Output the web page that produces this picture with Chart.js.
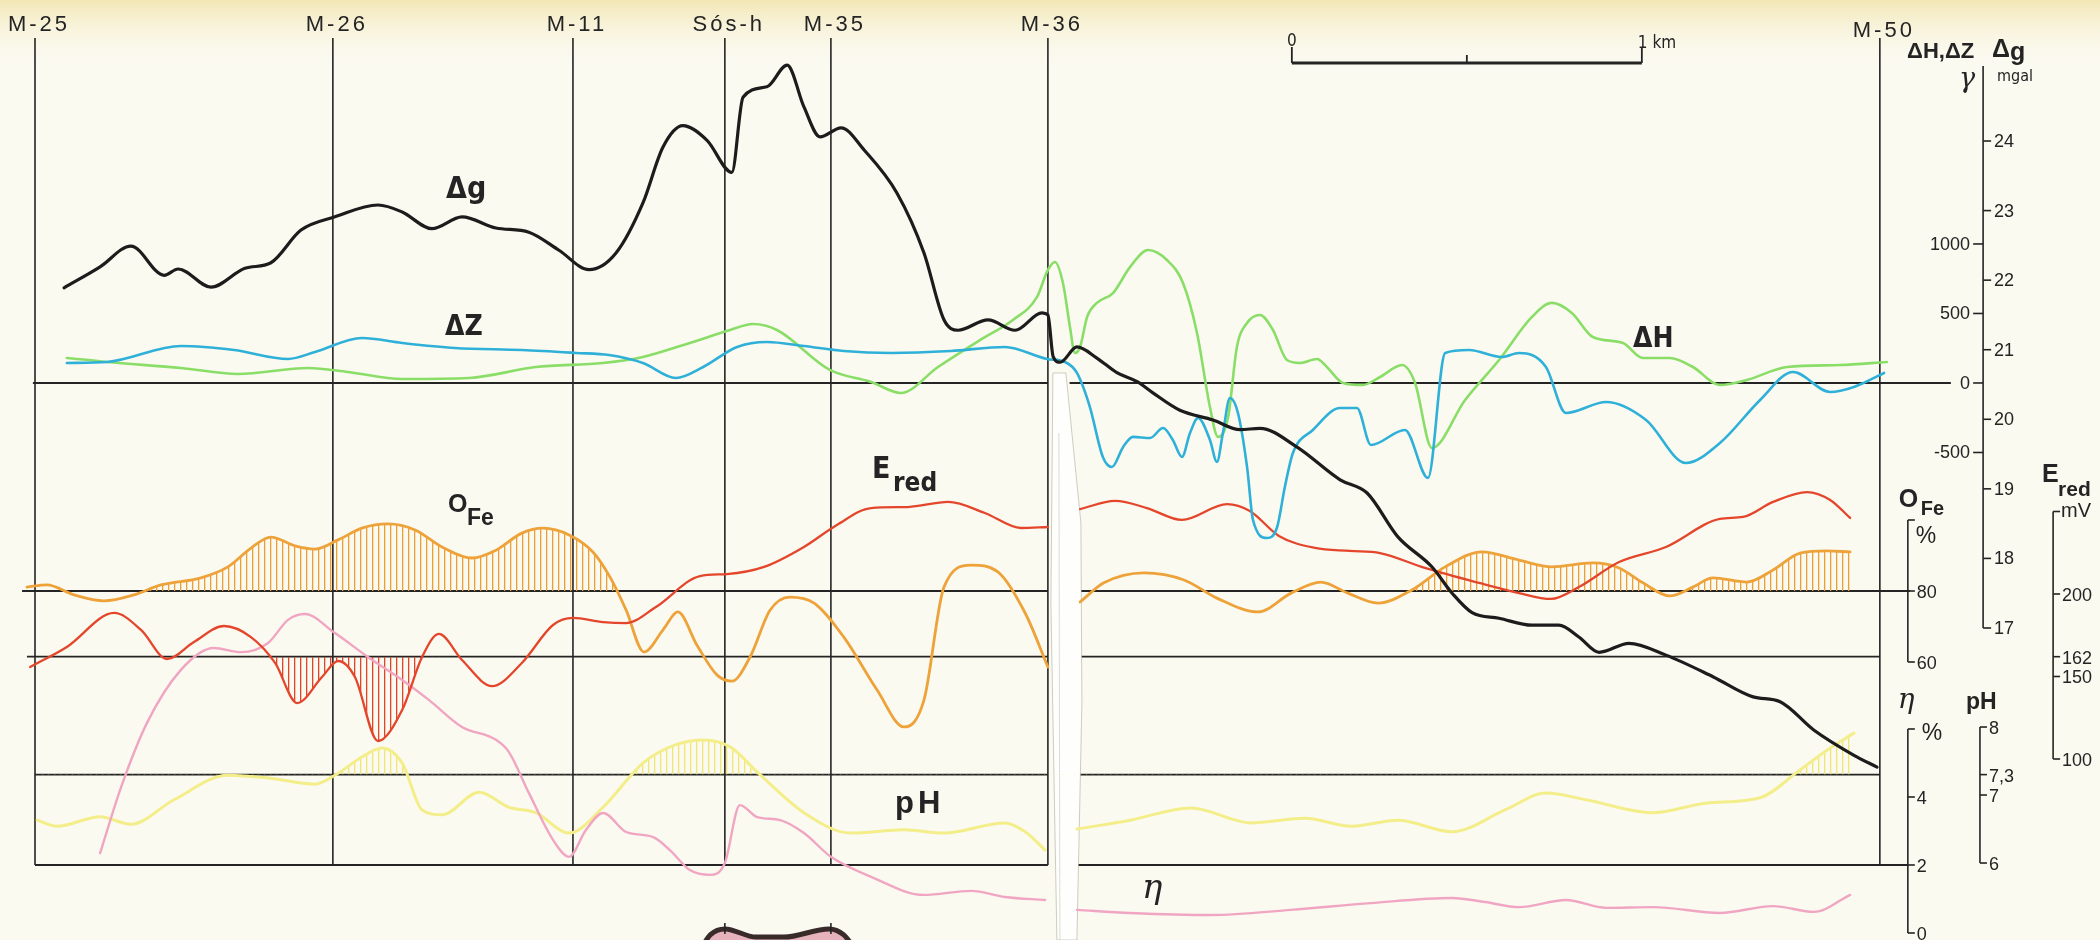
<!DOCTYPE html>
<html>
<head>
<meta charset="utf-8">
<title>Profile M-25 – M-50</title>
<script src="https://cdn.jsdelivr.net/npm/chart.js@4.4.1/dist/chart.umd.min.js"></script>
<style>
  html, body { margin: 0; padding: 0; background: #fbfaf1; }
  #wrap { width: 2100px; height: 940px; }
</style>
</head>
<body>
<div id="wrap"><canvas id="profile" width="2100" height="940"></canvas></div>
<script>
// stations along the profile (km from M-25)
const stations = ['M-25', 'M-26', 'M-11', 'Sós-h', 'M-35', 'M-36', 'M-50'];
const stationKm = [0, 0.851, 1.537, 1.971, 2.274, 2.894, 5.271];

// Δg, mgal
const gravKm = [0.083,0.186,0.274,0.369,0.409,0.503,0.600,0.674,0.760,0.857,0.980,1.049,1.134,1.220,1.317,1.411,1.497,1.583,1.660,1.737,1.794,1.851,1.920,1.991,2.023,2.091,2.149,2.197,2.243,2.303,2.369,2.463,2.540,2.597,2.637,2.723,2.800,2.877,2.894,2.909,2.929,2.977,3.034,3.091,3.149,3.194,3.271,3.366,3.443,3.500,3.606,3.729,3.806,3.894,3.991,4.049,4.106,4.183,4.277,4.354,4.411,4.469,4.554,4.660,4.794,4.909,4.986,5.083,5.197,5.263];
const gravMgal = [21.89,22.19,22.49,22.07,22.16,21.90,22.17,22.25,22.72,22.91,23.08,22.98,22.74,22.91,22.75,22.69,22.43,22.15,22.39,23.11,23.91,24.22,24.01,23.55,24.63,24.78,25.09,24.49,24.06,24.19,23.87,23.25,22.39,21.43,21.28,21.43,21.28,21.53,21.50,20.90,20.82,21.04,20.88,20.67,20.54,20.38,20.13,19.99,19.85,19.87,19.60,19.13,18.94,18.31,17.88,17.50,17.22,17.14,17.04,17.04,16.87,16.65,16.78,16.61,16.30,16.01,15.94,15.53,15.17,15.00];

// ΔZ, gamma
const dzKm = [0.091,0.206,0.417,0.569,0.723,0.800,0.934,1.049,1.200,1.391,1.546,1.640,1.737,1.831,1.909,2.006,2.091,2.197,2.311,2.446,2.617,2.771,2.891,2.943,2.977,3.014,3.051,3.077,3.109,3.137,3.186,3.223,3.251,3.277,3.300,3.323,3.357,3.377,3.394,3.414,3.437,3.463,3.480,3.520,3.549,3.571,3.594,3.651,3.729,3.777,3.817,3.914,3.980,4.029,4.097,4.191,4.240,4.317,4.374,4.489,4.603,4.717,4.814,4.929,5.023,5.129,5.197,5.283];
const dzGamma = [144,151,266,237,173,223,324,288,252,237,216,201,144,36,115,259,295,266,230,216,230,259,173,151,72,-173,-532,-604,-460,-388,-396,-324,-410,-532,-360,-252,-410,-568,-360,-108,-216,-604,-986,-1115,-1036,-748,-504,-338,-180,-180,-446,-338,-683,216,237,187,216,115,-216,-137,-266,-576,-432,-122,79,-65,-29,72];

// ΔH, gamma
const dhKm = [0.091,0.206,0.417,0.580,0.780,0.894,1.049,1.240,1.431,1.623,1.737,1.871,1.986,2.051,2.120,2.271,2.389,2.474,2.580,2.700,2.794,2.863,2.894,2.914,2.937,2.957,2.971,2.986,3.006,3.034,3.080,3.129,3.180,3.234,3.280,3.320,3.357,3.380,3.409,3.434,3.463,3.500,3.537,3.577,3.614,3.663,3.691,3.737,3.794,3.843,3.906,3.943,3.991,4.086,4.183,4.277,4.334,4.391,4.451,4.537,4.594,4.671,4.737,4.814,4.891,5.006,5.157,5.291];
const dhGamma = [180,151,108,65,108,79,29,36,115,144,187,288,381,424,381,94,7,-72,115,309,453,619,813,870,719,403,216,259,475,576,647,835,957,885,719,360,-173,-388,-245,259,432,489,381,165,144,173,115,0,-14,43,129,0,-468,-122,165,475,576,504,331,288,180,180,115,-14,22,115,129,151];

// E red, mV (null = fold of the sheet)
const redKm = [-0.014,0.091,0.226,0.303,0.377,0.454,0.540,0.617,0.686,0.749,0.820,0.866,0.914,0.980,1.049,1.106,1.154,1.220,1.306,1.391,1.480,1.537,1.623,1.689,1.774,1.900,1.977,2.083,2.197,2.291,2.389,2.494,2.609,2.714,2.817,2.894,2.94,2.986,3.086,3.177,3.277,3.406,3.471,3.554,3.657,3.757,3.843,3.971,4.126,4.240,4.331,4.411,4.526,4.660,4.814,4.880,4.966,5.063,5.129,5.186];
const redMv = [155.8,167.9,188.5,178.2,160.6,170.9,180.6,173.9,158.2,133.9,149.7,159.4,149.7,110.9,129.7,161.8,175.8,160.0,144.2,158.2,181.2,185.5,183.0,182.4,192.1,210.9,212.1,216.4,228.5,241.8,252.1,252.7,255.8,249.1,240.0,240.6,null,251.5,256.4,252.1,244.9,254.5,250.3,235.2,227.9,226.1,224.8,215.8,206.7,200.6,197.0,204.2,219.4,228.5,245.5,246.7,255.8,261.8,257.0,246.1];

// O Fe, %
const feKm = [-0.023,0.034,0.111,0.197,0.283,0.360,0.474,0.551,0.617,0.674,0.743,0.800,0.866,0.934,1.009,1.086,1.163,1.249,1.317,1.391,1.451,1.526,1.594,1.643,1.689,1.740,1.794,1.837,1.891,1.949,1.991,2.043,2.100,2.157,2.226,2.311,2.406,2.483,2.540,2.597,2.674,2.751,2.829,2.894,2.94,2.986,3.054,3.169,3.283,3.377,3.494,3.589,3.674,3.751,3.837,3.934,4.029,4.134,4.240,4.334,4.451,4.526,4.594,4.671,4.737,4.794,4.891,4.966,5.043,5.120,5.186];
const fePct = [81.1,81.7,78.9,77.2,78.9,81.7,83.7,86.8,92.1,95.2,92.7,91.8,94.4,97.7,98.9,97.2,92.4,89.3,91.5,96.3,97.7,95.8,91.0,83.9,74.6,62.8,69.0,74.1,64.8,56.3,54.6,61.4,74.6,78.3,76.6,67.0,52.1,41.7,49.3,81.1,87.3,85.4,73.8,58.6,null,76.9,82.3,85.1,83.1,78.0,74.1,79.4,82.5,79.4,76.6,80.3,86.8,91.0,88.7,86.8,87.9,86.5,82.3,78.6,81.1,83.7,82.5,85.9,90.7,91.3,91.0];

// pH
const phKm = [0.006,0.063,0.186,0.274,0.397,0.551,0.666,0.800,0.857,0.934,0.991,1.049,1.106,1.163,1.269,1.354,1.431,1.526,1.623,1.737,1.831,1.909,1.986,2.063,2.197,2.331,2.483,2.597,2.771,2.829,2.886,2.93,2.977,3.129,3.303,3.474,3.629,3.760,3.894,4.049,4.200,4.317,4.431,4.623,4.774,4.929,5.043,5.120,5.197];
const phVal = [6.63,6.54,6.68,6.57,6.93,7.29,7.25,7.16,7.29,7.56,7.69,7.47,6.78,6.71,7.04,6.82,6.74,6.44,6.82,7.47,7.74,7.81,7.71,7.34,6.74,6.44,6.49,6.44,6.59,6.46,6.19,null,6.50,6.63,6.81,6.59,6.66,6.54,6.63,6.46,6.78,7.03,6.93,6.74,6.88,6.96,7.37,7.66,7.91];

// η, %
const etaKm = [0.186,0.246,0.320,0.417,0.511,0.589,0.666,0.723,0.771,0.857,0.951,1.049,1.126,1.220,1.317,1.354,1.411,1.480,1.526,1.574,1.623,1.689,1.766,1.814,1.871,1.929,1.971,2.014,2.063,2.129,2.197,2.274,2.389,2.540,2.674,2.771,2.886,2.93,2.977,3.129,3.360,3.589,3.817,4.049,4.143,4.240,4.374,4.489,4.623,4.814,4.966,5.083,5.186];
const etaPct = [2.35,4.29,6.18,7.74,8.38,8.26,8.53,9.21,9.38,8.82,8.12,7.44,6.85,6.06,5.68,5.32,4.12,2.74,2.24,3.03,3.53,2.97,2.82,2.44,1.85,1.71,2.06,3.76,3.41,3.32,2.94,2.24,1.65,1.12,1.24,1.06,0.97,null,0.68,0.59,0.53,0.68,0.88,1.03,0.91,0.76,0.97,0.74,0.76,0.59,0.79,0.62,1.12];

// section of the body below the profile, drawn against the η staff
const bodyKm = [1.90, 1.93, 1.971, 2.06, 2.14, 2.269, 2.31, 2.345];
const bodyTop = [-0.5, -0.05, 0.12, -0.12, -0.12, 0.12, -0.05, -0.5];

// hatched stretches (km)
const feHatch = [[0.28, 1.70], [3.83, 5.20]];
const redHatch = [[0.60, 1.16]];

// staff ticks
const gravTicks = [17, 18, 19, 20, 21, 22, 23, 24];
const magTicks = [-500, 0, 500, 1000];
const feTicks = [60, 80];
const etaTicks = [0, 2, 4];
const phTicks = [6, 7, 7.3, 8];
const redTicks = [100, 150, 162, 200];

const FOLD = [2.894, 2.986];
const SANS = "'Liberation Sans', Arial, sans-serif";
const NARROW = "'Liberation Sans Narrow', 'DejaVu Sans Condensed', 'Liberation Sans', sans-serif";
const INK = '#242424';

const canvas = document.getElementById('profile');
const ctx = canvas.getContext('2d');

function stripes(color, gap) {
  const c = document.createElement('canvas');
  c.width = gap; c.height = 8;
  const g = c.getContext('2d');
  g.fillStyle = color;
  g.fillRect(0, 0, 1.3, 8);
  return ctx.createPattern(c, 'repeat');
}
const orangeHatch = stripes('#ec9f35', 6);
const redHatchFill = stripes('#e2442a', 6);
const yellowHatch = stripes('#efe676', 6);

const pairs = (xs, ys) => xs.map((x, i) => ({ x, y: ys[i] }));
const within = (pts, r) => pts.filter(p => p.y !== null && p.x >= r[0] && p.x <= r[1]);

const curve = (label, data, yAxisID, color, width, order) => ({
  label, data, yAxisID, order,
  borderColor: color, borderWidth: width, backgroundColor: 'rgba(0,0,0,0)',
  pointRadius: 0, fill: false, spanGaps: false,
  cubicInterpolationMode: 'monotone', borderCapStyle: 'round', borderJoinStyle: 'round'
});
const hatch = (data, yAxisID, base, side, pattern) => ({
  data, yAxisID, order: 20,
  borderColor: 'rgba(0,0,0,0)', borderWidth: 0, backgroundColor: 'rgba(0,0,0,0)',
  pointRadius: 0, cubicInterpolationMode: 'monotone',
  fill: {
    target: { value: base },
    above: side === 'above' ? pattern : 'rgba(0,0,0,0)',
    below: side === 'below' ? pattern : 'rgba(0,0,0,0)'
  }
});

const grav = pairs(gravKm, gravMgal);
const dz = pairs(dzKm, dzGamma);
const dh = pairs(dhKm, dhGamma);
const red = pairs(redKm, redMv);
const fe = pairs(feKm, fePct);
const ph = pairs(phKm, phVal);
const eta = pairs(etaKm, etaPct);

const datasets = [
  curve('Δg', grav, 'gravity', '#1c1c1c', 3.2, 0),
  curve('ΔZ', dz, 'magnetic', '#2fb0d8', 2.6, 1),
  curve('ΔH', dh, 'magnetic', '#8ade68', 2.6, 2),
  curve('E red', red, 'redox', '#e4462c', 2.3, 3),
  curve('O Fe', fe, 'oxid', '#eea23a', 2.8, 4),
  curve('pH', ph, 'ph', '#f4ee8a', 3.0, 6),
  curve('η', eta, 'poro', '#f0a6c2', 2.4, 5),
  Object.assign(curve('body', pairs(bodyKm, bodyTop), 'poro', '#3a2b2b', 5, 7), {
    fill: 'start', backgroundColor: '#e6b2bb'
  }),
  hatch(ph.filter(p => p.y !== null), 'ph', 7.3, 'above', yellowHatch)
];
feHatch.forEach(r => datasets.push(hatch(within(fe, r), 'oxid', 80, 'above', orangeHatch)));
redHatch.forEach(r => datasets.push(hatch(within(red, r), 'redox', 162, 'below', redHatchFill)));

function seg(c, x1, y1, x2, y2) {
  c.beginPath(); c.moveTo(x1, y1); c.lineTo(x2, y2); c.stroke();
}
function label(c, s, x, y, font, align, spacing) {
  c.font = font; c.textAlign = align || 'left'; c.textBaseline = 'alphabetic';
  c.letterSpacing = spacing || '0px';
  c.fillStyle = INK; c.fillText(s, x, y);
  c.letterSpacing = '0px';
}

const paper = {
  id: 'paper',
  beforeDraw(chart) {
    const { ctx: c, width, height } = chart;
    c.save();
    c.fillStyle = '#fbfaf1';
    c.fillRect(0, 0, width, height);
    const g = c.createLinearGradient(0, 0, 0, 70);
    g.addColorStop(0, 'rgba(240,224,160,0.75)');
    g.addColorStop(1, 'rgba(251,250,241,0)');
    c.fillStyle = g;
    c.fillRect(0, 0, width, 70);
    c.restore();
  }
};

const frame = {
  id: 'frame',
  beforeDatasetsDraw(chart) {
    const { ctx: c, scales: s } = chart;
    const X = v => s.x.getPixelForValue(v);
    c.save();
    c.strokeStyle = INK;
    c.lineWidth = 1.6;
    const bottom = s.poro.getPixelForValue(2);
    stationKm.forEach(km => seg(c, X(km), 38, X(km), bottom));

    const baselines = [
      { axis: 'magnetic', value: 0, spans: [[-0.006, FOLD[0]], [FOLD[1] - 0.03, 5.474]] },
      { axis: 'oxid', value: 80, spans: [[-0.037, FOLD[0]], [FOLD[1], 5.357]] },
      { axis: 'redox', value: 162, spans: [[-0.023, FOLD[0]], [FOLD[1], 5.271]] },
      { axis: 'ph', value: 7.3, spans: [[0, FOLD[0]], [FOLD[1] - 0.02, 5.271]] },
      { axis: 'poro', value: 2, spans: [[0, FOLD[0]], [FOLD[1] - 0.03, 5.351]] }
    ];
    c.lineWidth = 1.8;
    baselines.forEach(b => {
      const y = s[b.axis].getPixelForValue(b.value);
      b.spans.forEach(([a, e]) => seg(c, X(a), y, X(e), y));
    });

    // the fold in the sheet below the magnetic zero line
    const l = X(FOLD[0]) + 2;
    const top = s.magnetic.getPixelForValue(0) - 10;
    c.fillStyle = '#fefefc';
    c.strokeStyle = 'rgba(150,145,125,0.45)';
    c.lineWidth = 1;
    c.beginPath();
    c.moveTo(l + 3, top);
    c.lineTo(l + 16, top);
    c.lineTo(l + 31, top + 150);
    c.lineTo(l + 32, top + 330);
    c.lineTo(l + 27, 940);
    c.lineTo(l + 7, 940);
    c.lineTo(l + 1, top + 230);
    c.closePath();
    c.fill();
    c.stroke();
    c.strokeStyle = 'rgba(160,155,135,0.35)';
    seg(c, l + 9, top + 60, l + 10, 940);
    c.restore();
  },
  afterDraw(chart) {
    const { ctx: c, scales: s } = chart;
    const X = v => s.x.getPixelForValue(v);
    const G = v => s.gravity.getPixelForValue(v);
    const M = v => s.magnetic.getPixelForValue(v);
    const F = v => s.oxid.getPixelForValue(v);
    const R = v => s.redox.getPixelForValue(v);
    const P = v => s.ph.getPixelForValue(v);
    const E = v => s.poro.getPixelForValue(v);
    c.save();
    c.strokeStyle = INK;
    c.lineWidth = 1.6;

    // station names
    stations.forEach((name, i) => {
      label(c, name, X(stationKm[i]) + 4, i === stations.length - 1 ? 37 : 31, `22px ${SANS}`, 'center', '3px');
    });

    // scale bar, 1 km
    const b0 = X(3.591), b1 = X(4.591), bm = X(4.091);
    c.lineWidth = 3.2;
    seg(c, b0, 63, b1, 63);
    c.lineWidth = 1.8;
    seg(c, b0, 47, b0, 63);
    seg(c, bm, 55, bm, 63);
    seg(c, b1, 47, b1, 63);
    label(c, '0', b0, 46, `17px ${NARROW}`, 'center');
    label(c, '1 km', b1 - 4, 48, `17px ${NARROW}`, 'left');

    // Δg / ΔH,ΔZ staff
    c.lineWidth = 1.6;
    const ax = X(5.566);
    seg(c, ax, 66, ax, G(17));
    gravTicks.forEach(v => {
      const y = G(v);
      seg(c, ax, y, ax + 8, y);
      label(c, String(v), ax + 11, y + 6, `18px ${SANS}`);
    });
    magTicks.forEach(v => {
      const y = M(v);
      seg(c, ax - 10, y, ax, y);
      label(c, String(v), ax - 13, y + 6, `18px ${SANS}`, 'right');
    });
    label(c, 'ΔH,ΔZ', ax - 76, 58, `bold 22px ${SANS}`);
    label(c, 'Δ', ax + 9, 57, `bold 25px ${SANS}`);
    label(c, 'g', ax + 27, 60, `bold 25px ${SANS}`);
    label(c, 'mgal', ax + 14, 81, `16px ${NARROW}`);
    label(c, 'γ', ax - 24, 87, `italic 27px 'DejaVu Serif', serif`);

    // O Fe staff
    const fx = X(5.351);
    seg(c, fx, F(100), fx, F(60));
    seg(c, fx, F(100), fx + 7, F(100));
    feTicks.forEach(v => {
      const y = F(v);
      seg(c, fx, y, fx + 7, y);
      label(c, String(v), fx + 9, y + 7, `18px ${SANS}`);
    });
    label(c, '%', fx + 8, F(100) + 23, `23px ${SANS}`);
    label(c, 'O', fx - 9, 507, `bold 25px ${SANS}`);
    label(c, 'Fe', fx + 13, 515, `bold 20px ${SANS}`);

    // η staff
    seg(c, fx, E(6), fx, E(0));
    seg(c, fx, E(6), fx + 7, E(6));
    etaTicks.forEach(v => {
      const y = E(v);
      seg(c, fx, y, fx + 7, y);
      label(c, String(v), fx + 9, y + 7, `18px ${SANS}`);
    });
    label(c, 'η', fx - 10, 708, `italic 28px 'DejaVu Serif', serif`);
    label(c, '%', fx + 14, 740, `23px ${SANS}`);

    // pH staff
    const px = X(5.557);
    seg(c, px, P(8), px, P(6));
    phTicks.forEach(v => {
      const y = P(v);
      seg(c, px, y, px + 7, y);
      label(c, String(v).replace('.', ','), px + 9, y + 7, `18px ${SANS}`);
    });
    label(c, 'pH', px - 14, 709, `bold 23px ${SANS}`);

    // E red staff
    const rx = X(5.766);
    seg(c, rx, R(250), rx, R(100));
    seg(c, rx, R(250), rx + 7, R(250));
    redTicks.forEach(v => {
      const y = R(v);
      seg(c, rx, y, rx + 7, y);
      label(c, String(v), rx + 9, y + 7, `18px ${SANS}`);
    });
    label(c, 'E', rx - 11, 482, `bold 25px ${SANS}`);
    label(c, 'red', rx + 5, 496, `bold 21px ${SANS}`);
    label(c, 'mV', rx + 8, 517, `20px ${SANS}`);

    // curve names
    label(c, 'Δg', 446, 198, `bold 30px ${NARROW}`);
    label(c, 'ΔZ', 445, 335, `bold 28px ${NARROW}`);
    label(c, 'ΔH', 1633, 347, `bold 28px ${NARROW}`);
    label(c, 'E', 872, 478, `bold 30px ${NARROW}`);
    label(c, 'red', 893, 491, `bold 26px ${NARROW}`);
    label(c, 'O', 448, 512, `bold 25px ${SANS}`);
    label(c, 'Fe', 467, 525, `bold 23px ${SANS}`);
    label(c, 'pH', 895, 813, `bold 31px ${SANS}`, 'left', '4px');
    label(c, 'η', 1142, 898, `italic 34px 'DejaVu Serif', serif`);

    // survey marks on the body
    c.lineWidth = 1.6;
    [stationKm[3], stationKm[4]].forEach(km => seg(c, X(km), 923, X(km), 934));
    c.restore();
  }
};

new Chart(ctx, {
  type: 'line',
  data: { datasets },
  options: {
    responsive: false,
    animation: false,
    events: [],
    layout: { padding: 0 },
    plugins: { legend: { display: false }, tooltip: { enabled: false } },
    scales: {
      x: { type: 'linear', min: -0.1, max: 5.9, display: false },
      gravity: { axis: 'y', type: 'linear', min: 12.515, max: 26.027, display: false },
      magnetic: { axis: 'y', type: 'linear', min: -4007, max: 2755, display: false },
      oxid: { axis: 'y', type: 'linear', min: -18.31, max: 246.48, display: false },
      redox: { axis: 'y', type: 'linear', min: -9.7, max: 560, display: false },
      ph: { axis: 'y', type: 'linear', min: 4.868, max: 18.691, display: false },
      poro: { axis: 'y', type: 'linear', min: -0.206, max: 27.44, display: false }
    }
  },
  plugins: [paper, frame]
});
</script>
</body>
</html>
